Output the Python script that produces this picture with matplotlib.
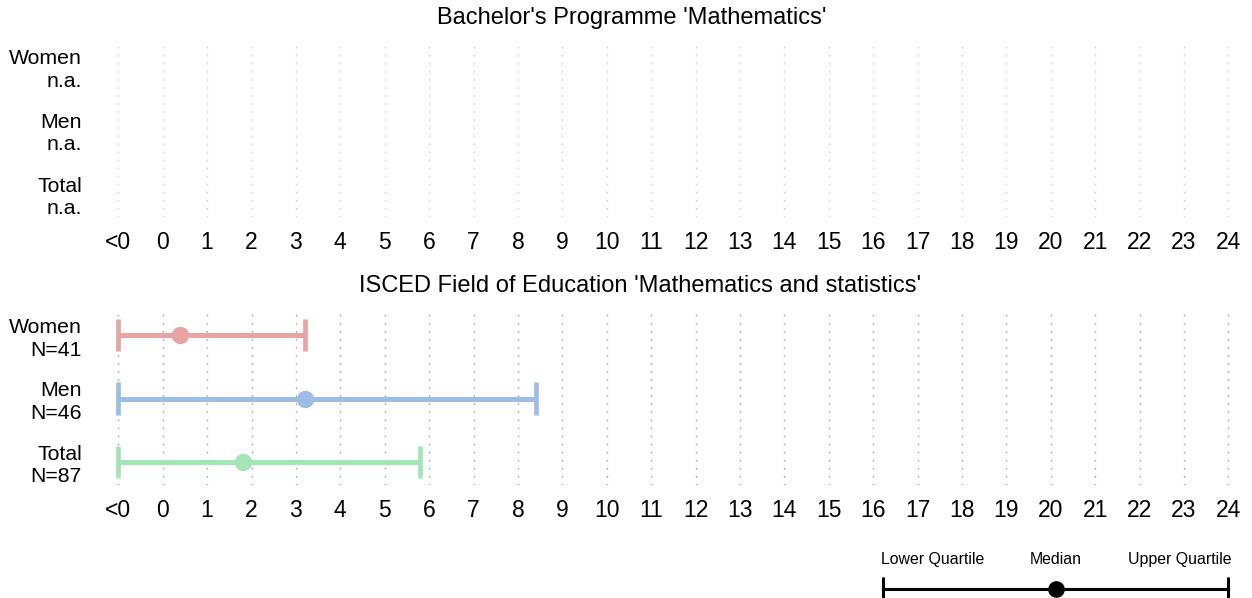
import matplotlib
matplotlib.use("Agg")
import matplotlib.pyplot as plt

plt.rcParams['font.family'] = ['Liberation Sans', 'DejaVu Sans']

# data
groups = ["Women", "Men", "Total"]
top_counts = ["n.a.", "n.a.", "n.a."]
bot_counts = ["N=41", "N=46", "N=87"]
lower_q = [-1, -1, -1]
median = [0.4, 3.2, 1.8]
upper_q = [3.2, 8.4, 5.8]
colors = ["#E8A3A3", "#9DBDE6", "#A3E6B5"]
tick_vals = list(range(-1, 25))
tick_labels = ["<0"] + [str(i) for i in range(0, 25)]
title_top = "Bachelor's Programme 'Mathematics'"
title_bot = "ISCED Field of Education 'Mathematics and statistics'"

W, H = 1252, 598
fig = plt.figure(figsize=(W / 100, H / 100), dpi=100)

def px_axes(x0, y0, x1, y1):
    return fig.add_axes([x0 / W, 1 - y1 / H, (x1 - x0) / W, (y1 - y0) / H])

# x mapping: px = 118.3 + 44.4*(v+1)
def v_of(px):
    return (px - 118.3) / 44.4 - 1

ypos = [2, 1, 0]

def setup(ax, counts, gridcol):
    ax.set_xlim(v_of(100), v_of(1245))
    ax.set_ylim(-0.37, 2.37)
    for v in tick_vals:
        ax.axvline(v, color=gridcol, lw=1.0, ls=(0, (1, 4.8)), zorder=0)
    ax.set_xticks(tick_vals)
    ax.set_xticklabels(tick_labels, fontsize=16.5)
    ax.set_yticks(ypos)
    ax.set_yticklabels([g + "\n" + c for g, c in zip(groups, counts)],
                       fontsize=15.3, ha="right", linespacing=1.22)
    ax.tick_params(axis="y", length=0, pad=13)
    ax.tick_params(axis="x", length=0, pad=10)
    for s in ax.spines.values():
        s.set_visible(False)

ax1 = px_axes(100, 43, 1245, 217)
setup(ax1, top_counts, "#c8c8c8")

ax2 = px_axes(100, 312, 1245, 485)
setup(ax2, bot_counts, "#9a9a9a")
for y, lo, md, up, c in zip(ypos, lower_q, median, upper_q, colors):
    ax2.hlines(y, lo, up, color=c, lw=3.6, zorder=2)
    ax2.vlines([lo, up], y - 0.255, y + 0.255, color=c, lw=3.4, zorder=2)
    ax2.plot(md, y, "o", color=c, ms=11.5, zorder=3)

fig.text(632 / W, 1 - 18 / H, title_top, ha="center", va="center", fontsize=17)
fig.text(640 / W, 1 - 286 / H, title_bot, ha="center", va="center", fontsize=17)

# key
key_pos = [0, 0.5, 1]
key_labels = ["Lower Quartile", "Median", "Upper Quartile"]
key_ha = ["left", "center", "right"]
axk = px_axes(883, 540, 1228, 598)
axk.set_xlim(0, 1)
axk.set_ylim(0, 1)
axk.axis("off")
ky = 0.16
axk.plot([0, 1], [ky, ky], color="black", lw=2.2, clip_on=False)
axk.vlines([0, 1], ky - 0.2, ky + 0.2, color="black", lw=2.2, clip_on=False)
axk.plot(0.5, ky, "o", color="black", ms=11, clip_on=False)
for p, t, ha in zip(key_pos, key_labels, key_ha):
    off = {"left": -0.006, "center": 0.0, "right": 0.009}[ha]
    axk.text(p + off, 0.66, t, ha=ha, va="center", fontsize=11.4)

fig.savefig("out.png", dpi=100)
